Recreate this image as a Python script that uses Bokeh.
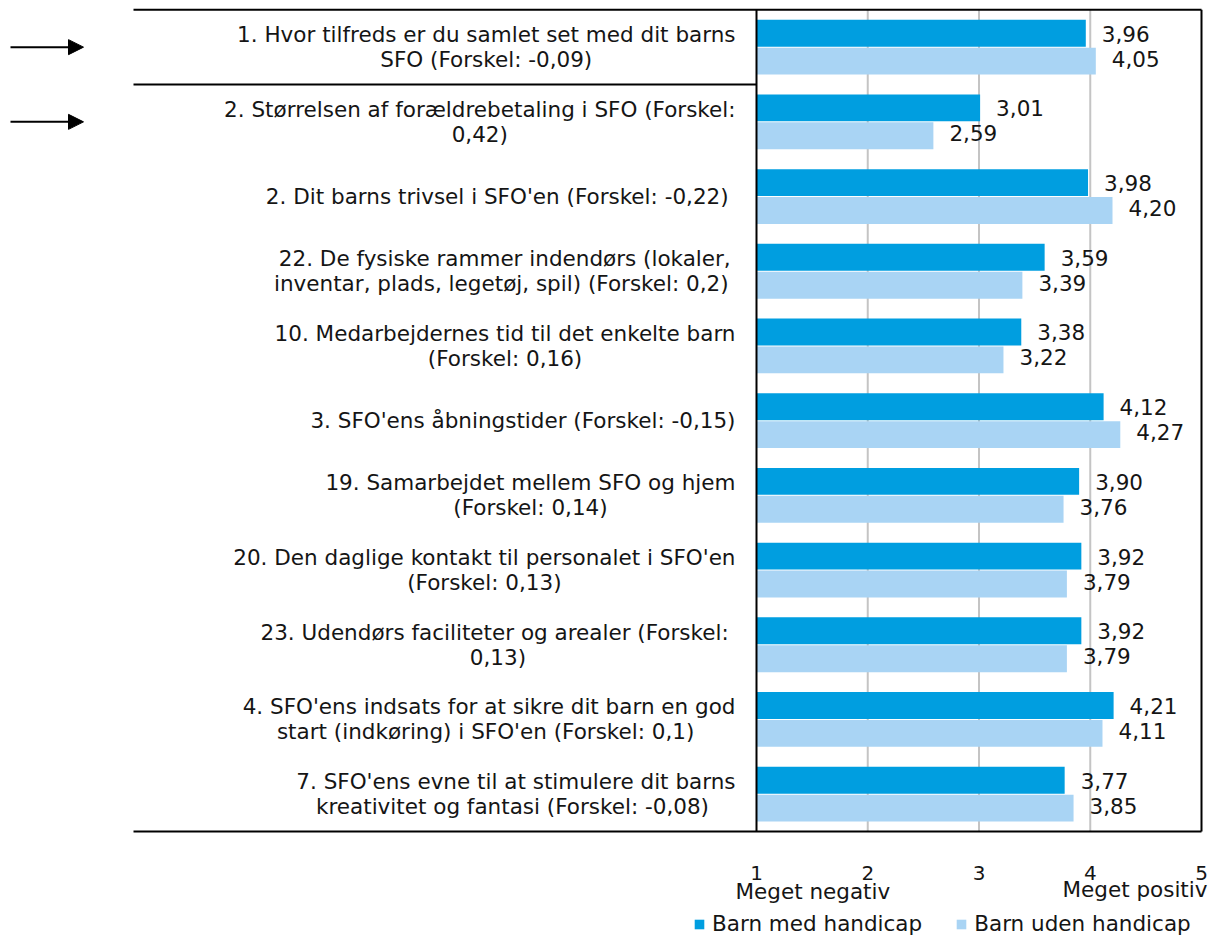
from bokeh.plotting import figure
from bokeh.models import Range1d, Arrow, NormalHead, Legend, LegendItem, ColumnDataSource
from bokeh.core.properties import value
from bokeh.embed import file_html
from bokeh.resources import INLINE

# ---------------- data ----------------
categories = [
    "1. Hvor tilfreds er du samlet set med dit barns\nSFO (Forskel: -0,09)",
    "2. Størrelsen af forældrebetaling i SFO (Forskel:\n0,42)",
    "2. Dit barns trivsel i SFO'en  (Forskel: -0,22)",
    "22. De fysiske rammer indendørs (lokaler,\ninventar, plads, legetøj, spil)  (Forskel: 0,2)",
    "10. Medarbejdernes tid til det enkelte barn\n(Forskel: 0,16)",
    "3. SFO'ens åbningstider (Forskel: -0,15)",
    "19. Samarbejdet mellem SFO og hjem\n(Forskel: 0,14)",
    "20. Den daglige kontakt til personalet i SFO'en\n(Forskel: 0,13)",
    "23. Udendørs faciliteter og arealer  (Forskel:\n0,13)",
    "4. SFO'ens indsats for at sikre dit barn en god\nstart (indkøring) i SFO'en  (Forskel: 0,1)",
    "7. SFO'ens evne til at stimulere dit barns\nkreativitet og fantasi  (Forskel: -0,08)",
]
med_handicap = [3.96, 3.01, 3.98, 3.59, 3.38, 4.12, 3.90, 3.92, 3.92, 4.21, 3.77]
uden_handicap = [4.05, 2.59, 4.20, 3.39, 3.22, 4.27, 3.76, 3.79, 3.79, 4.11, 3.85]
series_names = ["Barn med handicap", "Barn uden handicap"]
ticks = [1, 2, 3, 4, 5]
tick_labels = ["1", "2", "3", "4", "5"]
grid_ticks = [2, 3, 4]
axis_titles = ["Meget negativ", "Meget positiv"]
highlighted = [0, 1]

# ---------------- layout / style ----------------
W, H = 1209, 939
PX = 111.25            # pixels per scale unit
X0 = 1 - 756 / PX      # data x at canvas left edge
ROW = 74.7             # pixels per category row
Y_TOP = -9.3 / ROW     # data y at canvas top
XMIN, XMAX = ticks[0], ticks[-1]
LEFT_EDGE = X0 + 133 / PX
DARK = "#009EE0"
LIGHT = "#A9D4F4"
GRID = "#C4C4C4"
TXT = "#151515"
FONT = value("DejaVu Sans")
FS = "21.5px"

n = len(categories)
rows = list(range(n))
fmt = lambda v: f"{v:.2f}".replace(".", ",")

src = ColumnDataSource(dict(
    yc=[i + 0.5 for i in rows],
    y1=[i + 0.5 - 0.187 for i in rows],
    y2=[i + 0.5 + 0.187 for i in rows],
    med=med_handicap,
    uden=uden_handicap,
    lab1=[fmt(v) for v in med_handicap],
    lab2=[fmt(v) for v in uden_handicap],
    cat=categories,
))

p = figure(width=W, height=H,
           x_range=Range1d(X0, X0 + W / PX),
           y_range=Range1d(Y_TOP + H / ROW, Y_TOP),
           output_backend="svg", toolbar_location=None, min_border=0,
           x_axis_location=None, y_axis_location=None,
           outline_line_color=None)
p.xgrid.visible = False
p.ygrid.visible = False

# grid lines (behind the bars)
p.segment(x0=grid_ticks, y0=[0] * len(grid_ticks), x1=grid_ticks, y1=[n] * len(grid_ticks),
          line_color=GRID, line_width=2)

# bars
r1 = p.hbar(y="y1", left=XMIN, right="med", height=0.36, fill_color=DARK, line_color=None, source=src)
r2 = p.hbar(y="y2", left=XMIN, right="uden", height=0.36, fill_color=LIGHT, line_color=None, source=src)

# frame lines
p.segment(x0=[LEFT_EDGE, LEFT_EDGE, XMAX, XMIN, LEFT_EDGE],
          y0=[0, n, 0, 0, 1],
          x1=[XMAX, XMAX, XMAX, XMIN, XMIN],
          y1=[0, n, n, n, 1],
          line_color="black", line_width=2)

# value labels
p.text(x="med", y="y1", text="lab1", source=src, x_offset=16, y_offset=0.5,
       text_align="left", text_baseline="middle", text_font=FONT,
       text_font_size=FS, text_color=TXT)
p.text(x="uden", y="y2", text="lab2", source=src, x_offset=16, y_offset=-2.5,
       text_align="left", text_baseline="middle", text_font=FONT,
       text_font_size=FS, text_color=TXT)

# category labels
p.text(x=XMIN, y="yc", text="cat", source=src, x_offset=-21,
       anchor="center_right", text_align="center", text_baseline="middle",
       text_font=FONT, text_font_size=FS, text_color=TXT, text_line_height=1.0)

# tick labels
p.text(x=ticks, y=[n] * len(ticks), text=tick_labels, y_offset=41,
       text_align="center", text_baseline="middle", text_font=FONT,
       text_font_size="20px", text_color=TXT)

# axis end titles
p.text(x=[XMIN], y=[n], text=[axis_titles[0]], x_offset=-21, y_offset=60,
       text_align="left", text_baseline="middle", text_font=FONT,
       text_font_size=FS, text_color=TXT)
p.text(x=[XMAX], y=[n], text=[axis_titles[1]], x_offset=6, y_offset=58,
       text_align="right", text_baseline="middle", text_font=FONT,
       text_font_size=FS, text_color=TXT)

# arrows pointing at highlighted rows
for i in highlighted:
    p.add_layout(Arrow(x_start=X0 + 10 / PX, y_start=i + 0.5, x_end=X0 + 83 / PX, y_end=i + 0.5,
                       line_color="black", line_width=2,
                       end=NormalHead(size=15, fill_color="black", line_color="black", line_width=1)))

legend = Legend(items=[LegendItem(label=series_names[0], renderers=[r1]),
                       LegendItem(label=series_names[1], renderers=[r2])],
                orientation="horizontal", location=(693, 3),
                glyph_width=12, glyph_height=12, label_standoff=7, spacing=33,
                padding=0, margin=0, border_line_color=None, background_fill_alpha=0,
                label_text_font="DejaVu Sans", label_text_font_size=FS,
                label_text_color=TXT)
p.add_layout(legend)

open("out.html", "w").write(file_html(p, INLINE))
